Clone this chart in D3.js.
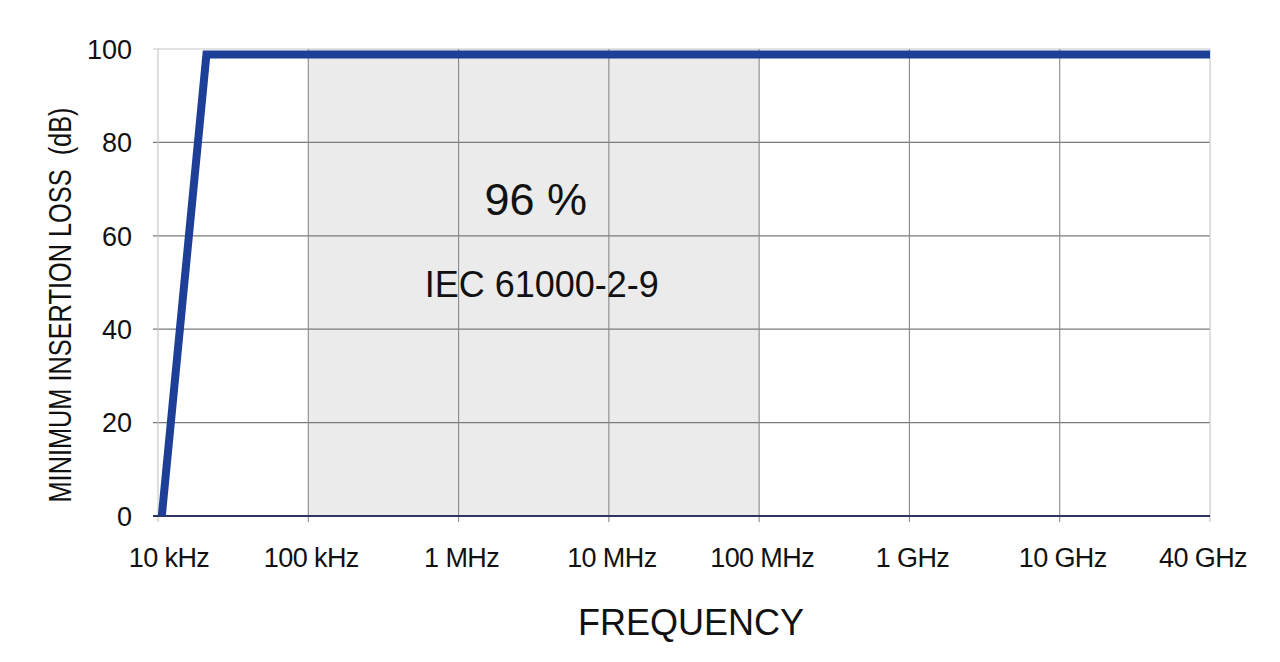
<!DOCTYPE html>
<html>
<head>
<meta charset="utf-8">
<script src="https://cdn.jsdelivr.net/npm/d3@7"></script>
<style>
  html, body { margin: 0; padding: 0; background: #fff; }
  svg { display: block; }
  text { font-family: "Liberation Sans", Arial, Helvetica, sans-serif; fill: #111; }
</style>
</head>
<body>
<svg id="chart" width="1280" height="662"></svg>
<script>
// ---- data ----
const tickFreqs  = [1e4, 1e5, 1e6, 1e7, 1e8, 1e9, 1e10, 4e10];
const tickLabels = ["10 kHz", "100 kHz", "1 MHz", "10 MHz", "100 MHz", "1 GHz", "10 GHz", "40 GHz"];
const yTicks     = [0, 20, 40, 60, 80, 100];
const curveFreq  = [1.06e4, 2.1e4, 4e10];
const curveLoss  = [0, 98.8, 98.8];
const bandFreq   = [1e5, 1e8];
const bandLabel  = "96 %";
const bandNote   = "IEC 61000-2-9";
const xTitle     = "FREQUENCY";
const yTitle     = "MINIMUM INSERTION LOSS\u00A0\u00A0(dB)";

// ---- layout ----
const plotL = 158, plotR = 1210, plotT = 49, plotB = 516;
const svg = d3.select("#chart");

// piecewise log scale: each labelled tick equally spaced
const logTicks = tickFreqs.map(f => Math.log10(f));
const xPos = d3.scaleLinear()
  .domain(logTicks)
  .range(logTicks.map((d, i) => plotL + i * (plotR - plotL) / (logTicks.length - 1)));
const x = f => xPos(Math.log10(f));
const y = d3.scaleLinear().domain([0, 100]).range([plotB, plotT]);

// shaded band
svg.append("rect")
  .attr("x", x(bandFreq[0])).attr("y", y(100))
  .attr("width", x(bandFreq[1]) - x(bandFreq[0]))
  .attr("height", y(0) - y(100))
  .attr("fill", "#ebebeb");

// horizontal grid (with small left ticks)
svg.append("g").selectAll("line").data(yTicks.filter(d => d > 0)).join("line")
  .attr("x1", plotL - 5).attr("x2", plotR)
  .attr("y1", d => y(d)).attr("y2", d => y(d))
  .attr("stroke", d => d === 100 ? "#c8c8c8" : "#7a7a7a").attr("stroke-width", 1.2);

// vertical grid (with small bottom ticks)
svg.append("g").selectAll("line").data(tickFreqs).join("line")
  .attr("x1", d => x(d)).attr("x2", d => x(d))
  .attr("y1", y(100)).attr("y2", plotB + 6)
  .attr("stroke", (d, i) => (i === 0 || i === tickFreqs.length - 1) ? "#c4c4c4" : "#8a8a8a")
  .attr("stroke-width", 1.1);

// baseline
svg.append("line")
  .attr("x1", plotL - 5).attr("x2", plotR)
  .attr("y1", y(0)).attr("y2", y(0))
  .attr("stroke", "#30345e").attr("stroke-width", 1.8);

// y tick labels
svg.append("g").selectAll("text").data(yTicks).join("text")
  .attr("x", 132).attr("y", d => y(d))
  .attr("dy", "0.36em")
  .attr("text-anchor", "end")
  .attr("font-size", 27)
  .text(d => d);

// x tick labels
const xLabelShift = tickLabels.map((d, i) => i === 0 ? 11 : (i === tickLabels.length - 1 ? -7 : 3));
svg.append("g").selectAll("text").data(tickLabels).join("text")
  .attr("x", (d, i) => x(tickFreqs[i]) + xLabelShift[i])
  .attr("y", 567)
  .attr("text-anchor", "middle")
  .attr("font-size", 27)
  .attr("letter-spacing", -0.6)
  .text(d => d);

// curve
const line = d3.line().x(d => x(d[0])).y(d => y(d[1]));
svg.append("path")
  .datum(curveFreq.map((f, i) => [f, curveLoss[i]]))
  .attr("d", line)
  .attr("fill", "none")
  .attr("stroke", "#1d3f98")
  .attr("stroke-width", 8)
  .attr("stroke-linejoin", "miter");

// band annotations
const bandMid = (x(bandFreq[0]) + x(bandFreq[1])) / 2;
svg.append("text")
  .attr("x", bandMid + 2).attr("y", 215)
  .attr("text-anchor", "middle").attr("font-size", 45)
  .text(bandLabel);
svg.append("text")
  .attr("x", bandMid + 8).attr("y", 297)
  .attr("text-anchor", "middle").attr("font-size", 36)
  .text(bandNote);

// axis titles
svg.append("text")
  .attr("x", 691).attr("y", 635)
  .attr("text-anchor", "middle").attr("font-size", 36)
  .text(xTitle);
svg.append("text")
  .attr("transform", "translate(71,305) rotate(-90)")
  .attr("text-anchor", "middle").attr("font-size", 31)
  .attr("textLength", 395).attr("lengthAdjust", "spacingAndGlyphs")
  .text(yTitle);
</script>
</body>
</html>
